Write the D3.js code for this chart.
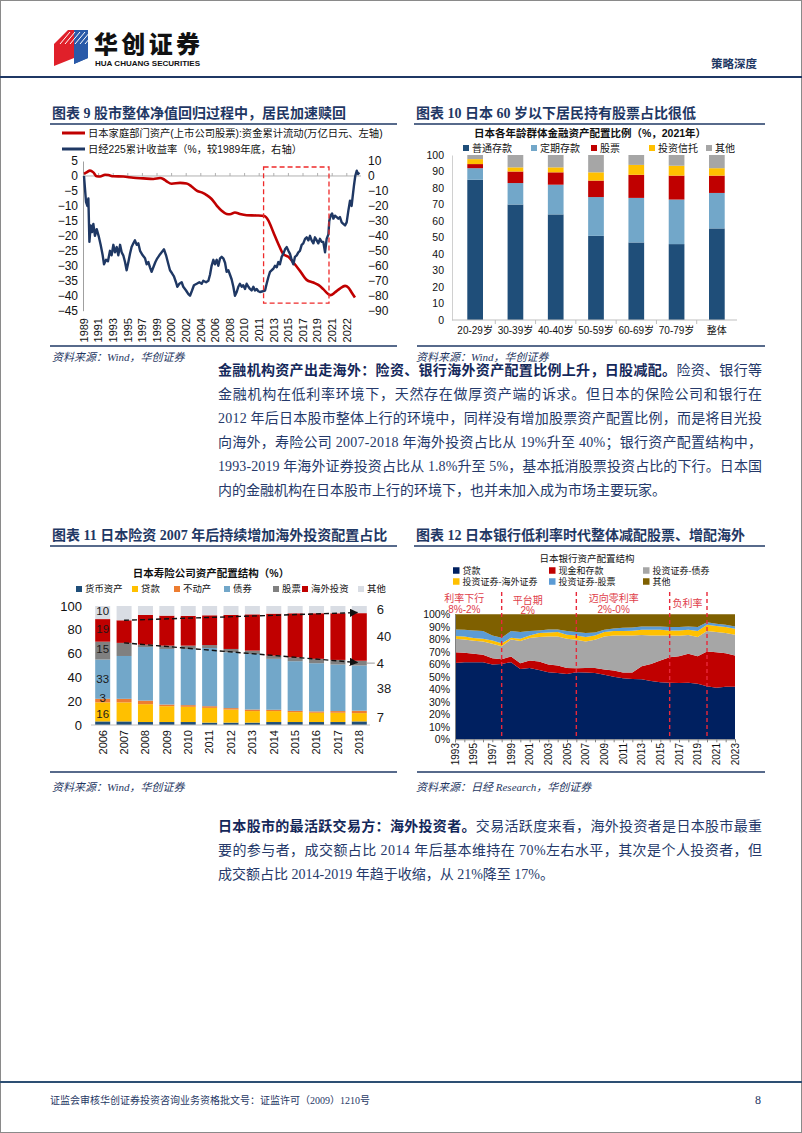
<!DOCTYPE html>
<html><head><meta charset="utf-8">
<script src="https://cdn.jsdelivr.net/npm/d3@7"></script>
<style>
body{margin:0;background:#fff;}
svg{display:block;}
</style></head><body>
<svg id="page" width="802" height="1133"></svg>
<script>
// ---------------- DATA ----------------
// Chart 9
const c9Ticks = ["1989","1991","1993","1995","1997","1999","2000","2002","2004","2006","2008","2010","2011","2013","2015","2017","2019","2021","2022"];
const c9Household = [[0,0.7],[0.18,1.2],[0.41,1.8],[0.64,1.2],[0.87,-0.1],[1.10,-0.2],[1.44,0.4],[1.67,0.3],[2.01,-0.1],[2.69,-0.2],[3.38,-0.6],[4.06,-0.8],[4.75,-1.0],[5.21,-0.7],[5.43,-1.0],[5.66,-1.8],[6.00,-2.6],[6.58,-2.3],[7.03,-2.5],[7.37,-3.5],[7.72,-4.9],[8.06,-5.5],[8.40,-6.4],[8.74,-7.7],[9.09,-9.9],[9.43,-11.6],[9.77,-12.7],[10.00,-12.8],[10.34,-12.2],[10.68,-12.7],[11.14,-13.1],[11.83,-13.2],[12.35,-13.4],[12.63,-14.9],[12.97,-18.8],[13.31,-22.7],[13.65,-26.1],[14.00,-27.0],[14.34,-28.9],[14.79,-31.7],[15.25,-34.7],[15.71,-35.6],[16.05,-36.4],[16.39,-37.8],[16.74,-39.5],[16.89,-39.8],[17.19,-38.9],[17.53,-37.6],[17.88,-36.7],[18.11,-37.3],[18.33,-38.9],[18.56,-40.6]];
const c9Nikkei = [[0,0],[0.14,-17.5],[0.23,-20],[0.30,-15],[0.37,-44],[0.46,-33],[0.55,-37.5],[0.64,-32],[0.75,-40],[0.87,-35.5],[1.00,-40],[1.14,-46],[1.28,-53],[1.37,-59],[1.51,-56],[1.64,-57],[1.78,-50],[1.89,-53],[2.01,-46],[2.12,-51],[2.24,-47.5],[2.35,-53],[2.47,-46],[2.58,-51],[2.69,-53],[2.81,-57.5],[2.92,-63],[3.04,-57.5],[3.15,-52],[3.26,-47.5],[3.38,-45],[3.49,-43],[3.61,-46],[3.72,-45],[3.84,-50],[4.02,-53],[4.18,-55],[4.29,-59],[4.41,-57.5],[4.52,-61],[4.63,-64],[4.75,-61],[4.89,-57.5],[5.02,-55],[5.16,-53],[5.32,-51],[5.48,-49],[5.62,-53],[5.78,-59],[5.89,-63],[6.03,-65],[6.16,-67],[6.30,-71],[6.39,-74],[6.53,-72],[6.69,-71],[6.80,-74],[6.99,-76.5],[7.15,-79],[7.26,-80],[7.40,-76.5],[7.53,-73],[7.72,-72],[7.90,-71],[8.06,-72],[8.17,-70],[8.36,-71],[8.52,-70],[8.63,-66],[8.74,-60],[8.86,-56],[8.97,-59],[9.09,-56],[9.20,-60],[9.32,-55],[9.43,-54],[9.54,-55],[9.66,-58],[9.77,-64],[9.89,-63],[10.00,-66],[10.11,-69],[10.23,-74],[10.34,-80],[10.46,-77.5],[10.57,-74],[10.68,-72],[10.80,-74],[10.91,-73],[11.03,-75.5],[11.14,-72],[11.26,-74],[11.37,-75.5],[11.48,-76.5],[11.60,-74],[11.71,-76.5],[11.83,-75.5],[11.94,-77],[12.05,-77.5],[12.24,-77],[12.40,-76.5],[12.51,-72],[12.63,-67.5],[12.74,-64],[12.85,-63],[12.97,-62],[13.08,-60],[13.20,-61],[13.31,-57.5],[13.42,-59],[13.54,-54],[13.65,-52],[13.77,-49],[13.88,-47.5],[14.00,-50],[14.11,-52],[14.22,-56],[14.34,-59],[14.45,-54],[14.57,-53],[14.68,-51],[14.79,-50],[14.91,-46],[15.02,-45],[15.14,-42],[15.25,-41],[15.37,-43],[15.48,-40],[15.59,-43],[15.71,-45],[15.82,-41],[15.94,-43],[16.05,-45],[16.16,-42],[16.28,-44],[16.39,-44],[16.51,-51],[16.62,-42],[16.74,-39],[16.80,-30],[16.89,-26.5],[16.99,-25],[17.08,-28.5],[17.19,-26.5],[17.31,-27.5],[17.42,-28.5],[17.53,-27.5],[17.65,-31],[17.76,-32],[17.88,-33],[17.99,-31],[18.11,-23],[18.22,-16.5],[18.33,-20],[18.40,-14],[18.49,-6.5],[18.58,0],[18.68,3.5],[18.77,1.3],[18.86,2.4]];
const c9Box = {from:12.3, to:16.78, top:3, bottom:-42.5};
const c9Legend = ["日本家庭部门资产(上市公司股票):资金累计流动(万亿日元、左轴)","日经225累计收益率（%，较1989年底，右轴）"];

// Chart 10
const c10Groups = ["20-29岁","30-39岁","40-40岁","50-59岁","60-69岁","70-79岁","整体"];
const c10Keys = ["普通存款","定期存款","股票","投资信托","其他"];
const c10Ordinary = [85,70,64,51,47,46,55.5];
const c10Time = [7,13,18,23.5,27,27,21.5];
const c10Stock = [2.5,7,7.5,10,14,14.5,10.5];
const c10Trust = [3,2.5,3,5,6,6,4.5];
const c10Other = [2.5,7.5,7.5,10.5,6,6.5,8];
const c10Ticks = [0,10,20,30,40,50,60,70,80,90,100];

// Chart 11
const c11Years = ["2006","2007","2008","2009","2010","2011","2012","2013","2014","2015","2016","2017","2018"];
const c11Keys = ["货币资产","贷款","不动产","债券","股票","海外投资","其他"];
const c11Cash = [3,3,2.5,2.5,2.5,2,2,2,2.5,2.5,2.5,2.5,3];
const c11Loan = [16,16,15,13.3,12.8,12.4,11,9.7,9.2,8.3,7.8,7.8,7];
const c11RealEstate = [3,3,3,1.4,1.4,1.4,1.2,1.3,1.1,1.1,1.1,1.4,2];
const c11Bond = [33,36,45,46.7,47.2,48.9,46.9,46.7,42.8,41.7,40.5,39.1,38];
const c11Stock = [15,11,2,2.8,2.8,2.5,2.8,2.8,2.7,3.3,3.7,3.9,4];
const c11Overseas = [19,19,25,25.2,25,25,28.6,30.5,35.3,37,38.3,39.2,40];
const c11Other = [11,12,7.5,8.1,8.3,7.8,7.5,7,6.4,6.1,6.1,6.1,6];
const c11FirstLabels = ["","16","3","33","15","19","10"];
const c11FirstLabelAt = [null,9.5,22.5,38.5,63.5,80.5,96];
const c11LastLabels = ["","7","","38","4","40","6"];
const c11Trends = [{from:["2007",88],to:["2018",94.5]},{from:["2007",69],to:["2018",52.5]}];
const c11Ticks = [0,20,40,60,80,100];

// Chart 12
const c12Years = d3.range(1993, 2024);
const c12Keys = ["贷款","现金和存款","投资证券-债券","投资证券-海外证券","投资证券-股票","其他"];
const c12Loan = [61.1,61.7,61.7,61.7,59.8,60.3,61.7,56.3,57.1,55.5,53.6,53.1,52.3,53.6,53.4,53.1,51.7,50.1,48.8,48.3,48.0,46.6,45.6,45.3,45.0,45.3,44.5,42.4,41.3,42.1,42.1];
const c12Cash = [8.6,7.5,6.7,5.9,5.1,3.8,4.5,4.6,5.9,6.7,6.2,5.9,4.8,3.2,3.7,4.0,4.1,4.9,4.6,5.1,10.4,13.7,17.4,20.4,21.5,23.1,22.0,27.8,28.4,26.8,24.9];
const c12Bond = [10.7,10.6,10.4,10.7,11.5,10.4,13.7,17.7,18.0,19.6,22.5,23.3,23.3,22.8,21.2,22.5,26.5,28.1,29.7,29.7,25.0,22.8,20.1,17.4,16.3,15.0,15.3,16.4,16.1,16.1,16.6];
const c12Foreign = [2.2,2.5,2.2,2.1,2.7,2.4,1.3,1.8,2.1,3.2,3.2,3.5,3.2,3.5,3.5,3.5,3.5,3.5,3.5,3.8,4.3,4.6,4.6,4.0,4.3,4.3,4.8,5.1,4.8,4.8,4.9];
const c12Stock = [5.3,5.4,6.1,6.2,4.0,4.3,5.4,5.4,3.5,2.1,2.4,2.1,3.0,2.7,3.2,2.4,1.9,2.1,2.7,2.6,2.6,2.6,2.6,2.7,2.7,2.6,3.2,1.9,1.9,1.9,1.8];
const c12Other = [12.1,12.3,12.9,13.4,16.9,18.8,13.4,14.2,13.4,12.9,12.1,12.1,13.4,14.2,15.0,14.5,12.3,11.3,10.7,10.5,9.7,9.7,9.7,10.2,10.2,9.7,10.2,6.4,7.5,8.3,9.7];
const c12TickYears = d3.range(1993, 2024, 2);
const c12Breaks = [1998, 2006, 2016, 2020];
const c12Phases = [
  {name:"利率下行", rate:"8%-2%", at:1994.0, anchor:"middle", row:0},
  {name:"平台期", rate:"2%", at:2000.8, anchor:"middle", row:0.2},
  {name:"迈向零利率", rate:"2%-0%", at:2010.0, anchor:"middle", row:0},
  {name:"负利率", rate:"", at:2016.3, anchor:"start", row:0.55}
];

// Text
const para1 = [
  [["金融机构资产出走海外：险资、银行海外资产配置比例上升，日股减配。",true],["险资、银行等",false]],
  [["金融机构在低利率环境下，天然存在做厚资产端的诉求。但日本的保险公司和银行在",false]],
  [["2012 年后日本股市整体上行的环境中，同样没有增加股票资产配置比例，而是将目光投",false]],
  [["向海外，寿险公司 2007-2018 年海外投资占比从 19%升至 40%；银行资产配置结构中，",false]],
  [["1993-2019 年海外证券投资占比从 1.8%升至 5%，基本抵消股票投资占比的下行。日本国",false]],
  [["内的金融机构在日本股市上行的环境下，也并未加入成为市场主要玩家。",false]]
];
const para2 = [
  [["日本股市的最活跃交易方：海外投资者。",true],["交易活跃度来看，海外投资者是日本股市最重",false]],
  [["要的参与者，成交额占比 2014 年后基本维持在 70%左右水平，其次是个人投资者，但",false]],
  [["成交额占比 2014-2019 年趋于收缩，从 21%降至 17%。",false]]
];

// ---------------- STYLE ----------------
const NAVY = "#1f3864";
const SANS = '"Liberation Sans", Arial, "Noto Sans CJK SC", sans-serif';
const SERIF = '"Liberation Serif", "Times New Roman", "Noto Sans CJK SC", serif';
const CJK = '"Noto Sans CJK SC", sans-serif';

const svg = d3.select("#page");
svg.append("rect").attr("x",0.5).attr("y",0.5).attr("width",801).attr("height",1132)
  .attr("fill","#fff").attr("stroke","#8a8a8a");

// ---------------- HEADER ----------------
const hd = svg.append("g");
hd.append("polygon").attr("points","54,44 68,30 74,30 74,58 54,66").attr("fill","#e0202a");
hd.append("polygon").attr("points","74,30 88,30 88,58 74,64 74,58").attr("fill","#2a5aa8");
for (let i=0;i<6;i++){
  hd.append("line").attr("x1",60+i*5).attr("y1",44).attr("x2",70+i*5).attr("y2",32)
    .attr("stroke","#fff").attr("stroke-width",1);
}
hd.append("polygon").attr("points","74,44 88,44 88,58 74,64").attr("fill","#2a5aa8");
hd.append("text").attr("x",94).attr("y",53).attr("font-family",CJK).attr("font-weight",900)
  .attr("font-size",24).attr("textLength",106).attr("fill","#111").text("华创证券");
hd.append("text").attr("x",95).attr("y",65.5).attr("font-family",SANS).attr("font-weight","bold")
  .attr("font-size",7).attr("textLength",105).attr("lengthAdjust","spacingAndGlyphs").attr("fill","#111").text("HUA CHUANG SECURITIES");
hd.append("text").attr("x",711).attr("y",68).attr("font-family",CJK).attr("font-weight","bold")
  .attr("font-size",11.5).attr("fill",NAVY).text("策略深度");
hd.append("line").attr("x1",0).attr("x2",802).attr("y1",77).attr("y2",77).attr("stroke",NAVY).attr("stroke-width",2.2);

// ---------------- HELPERS ----------------
function title(x, y, x2, label){
  svg.append("text").attr("x",x).attr("y",y).attr("font-family",SERIF).attr("font-weight","bold")
    .attr("font-size",14).attr("fill",NAVY).text(label);
  svg.append("line").attr("x1",x-2).attr("x2",x2).attr("y1",y+6).attr("y2",y+6)
    .attr("stroke",NAVY).attr("stroke-width",1.6);
}
function rule(x1,x2,y){
  svg.append("line").attr("x1",x1).attr("x2",x2).attr("y1",y).attr("y2",y).attr("stroke",NAVY).attr("stroke-width",1.6);
}
function source(x,y,label){
  svg.append("text").attr("x",x).attr("y",y).attr("font-family",SERIF).attr("font-style","italic")
    .attr("font-size",11).attr("fill",NAVY).text(label);
}
function legendSq(g,x,y,size,color,label,fs){
  g.append("rect").attr("x",x).attr("y",y-size/2).attr("width",size).attr("height",size).attr("fill",color);
  g.append("text").attr("x",x+size+3).attr("y",y).attr("dy","0.35em").attr("font-family",CJK)
    .attr("font-size",fs).attr("fill","#111").text(label);
}
function styleAxis(a, fs){
  a.selectAll("text").attr("font-family",SANS).attr("font-size",fs).attr("fill","#111");
}

// ---------------- CHART 9 ----------------
title(52,118,397,"图表 9  股市整体净值回归过程中，居民加速赎回");
const g9 = svg.append("g");
const x9 = d3.scaleLinear().domain([0, c9Ticks.length-1]).range([84, 346.8]);
const yL9 = d3.scaleLinear().domain([-45,5]).range([310.7,161]);
const yR9 = d3.scaleLinear().domain([-90,10]).range([310.7,161]);
g9.append("g").attr("transform","translate(83,0)")
  .call(d3.axisLeft(yL9).tickValues(d3.range(-45,6,5)).tickSize(0).tickPadding(5))
  .call(a=>{a.select(".domain").attr("stroke","#a0a0a0"); styleAxis(a,12);});
g9.append("g").attr("transform","translate(362,0)")
  .call(d3.axisRight(yR9).tickValues(d3.range(-90,11,10)).tickSize(0).tickPadding(6))
  .call(a=>{a.select(".domain").remove(); styleAxis(a,12);});
g9.append("line").attr("x1",83).attr("x2",361).attr("y1",yL9(0)).attr("y2",yL9(0)).attr("stroke","#b0b0b0");
g9.selectAll("line.t9").data(c9Ticks).join("line").attr("class","t9")
  .attr("x1",(d,i)=>x9(i)).attr("x2",(d,i)=>x9(i)).attr("y1",yL9(0)).attr("y2",yL9(0)-3).attr("stroke","#b0b0b0");
g9.selectAll("text.xl9").data(c9Ticks).join("text").attr("class","xl9")
  .attr("transform",(d,i)=>`translate(${x9(i)},318) rotate(-90)`)
  .attr("text-anchor","end").attr("dy","0.35em").attr("font-family",SANS).attr("font-size",11).attr("fill","#111")
  .text(d=>d);
g9.append("path").datum(c9Household).attr("fill","none").attr("stroke","#c00000").attr("stroke-width",2.6)
  .attr("d", d3.line().x(d=>x9(d[0])).y(d=>yL9(d[1])).curve(d3.curveMonotoneX));
g9.append("path").datum(c9Nikkei).attr("fill","none").attr("stroke",NAVY).attr("stroke-width",2.4)
  .attr("stroke-linejoin","round").attr("d", d3.line().x(d=>x9(d[0])).y(d=>yR9(d[1])));
g9.append("rect").attr("x",x9(c9Box.from)).attr("y",yL9(c9Box.top))
  .attr("width",x9(c9Box.to)-x9(c9Box.from)).attr("height",yL9(c9Box.bottom)-yL9(c9Box.top))
  .attr("fill","none").attr("stroke","#ee2a2a").attr("stroke-width",1.3).attr("stroke-dasharray","5,3");
[["#c00000",0],[NAVY,1]].forEach(([c,i])=>{
  const y = 133 + i*16;
  g9.append("line").attr("x1",62).attr("x2",85).attr("y1",y).attr("y2",y).attr("stroke",c).attr("stroke-width",3);
  g9.append("text").attr("x",88).attr("y",y).attr("dy","0.35em").attr("font-family",SANS)
    .attr("font-size",10.3).attr("fill","#111").text(c9Legend[i]);
});
rule(50,397,346);
source(52,361,"资料来源：Wind，华创证券");

// ---------------- CHART 10 ----------------
title(416,118,765,"图表 10  日本 60 岁以下居民持有股票占比很低");
const g10 = svg.append("g");
g10.append("text").attr("x",590).attr("y",133).attr("text-anchor","middle").attr("dy","0.35em")
  .attr("font-family",SANS).attr("font-weight","bold").attr("font-size",10.5).attr("fill","#111")
  .text("日本各年龄群体金融资产配置比例（%，2021年）");
const c10Colors = ["#1f4e79","#72a7c9","#c00000","#ffc000","#a6a6a6"];
const c10Legend = [463,531,591,649,706];
c10Keys.forEach((k,i)=>legendSq(g10,c10Legend[i],148,6,c10Colors[i],k,10));
const x10 = d3.scaleBand().domain(c10Groups).range([455,737]);
const y10 = d3.scaleLinear().domain([0,100]).range([320,155]);
const c10Rows = c10Groups.map((g,i)=>({g, "普通存款":c10Ordinary[i], "定期存款":c10Time[i], "股票":c10Stock[i], "投资信托":c10Trust[i], "其他":c10Other[i]}));
const st10 = d3.stack().keys(c10Keys)(c10Rows);
const bw10 = 15.7;
g10.selectAll("g.s").data(st10).join("g").attr("fill",(d,i)=>c10Colors[i])
  .selectAll("rect").data(d=>d).join("rect")
  .attr("x",d=>x10(d.data.g)+x10.bandwidth()/2-bw10/2).attr("width",bw10)
  .attr("y",d=>y10(d[1])).attr("height",d=>y10(d[0])-y10(d[1]));
g10.append("g").attr("transform","translate(452,0)")
  .call(d3.axisLeft(y10).tickValues(c10Ticks).tickSize(0).tickPadding(8))
  .call(a=>{a.select(".domain").attr("stroke","#d0d0d0"); styleAxis(a,10.5);});
g10.append("line").attr("x1",452).attr("x2",737).attr("y1",320).attr("y2",320).attr("stroke","#bfbfbf");
g10.selectAll("line.tk").data(c10Groups.slice(1)).join("line").attr("class","tk")
  .attr("x1",d=>x10(d)).attr("x2",d=>x10(d)).attr("y1",320).attr("y2",324).attr("stroke","#bfbfbf");
g10.selectAll("text.cat").data(c10Groups).join("text").attr("class","cat")
  .attr("x",d=>x10(d)+x10.bandwidth()/2).attr("y",330).attr("dy","0.35em").attr("text-anchor","middle")
  .attr("font-family",SANS).attr("font-size",10).attr("fill","#111").text(d=>d);
rule(417,765,346);
source(416,361,"资料来源：Wind，华创证券");

// ---------------- PARAGRAPHS ----------------
function paragraph(lines, y0, step){
  lines.forEach((segs,i)=>{
    const t = svg.append("text").attr("x",218).attr("y",y0+i*step).attr("font-family",SERIF)
      .attr("font-size",14).attr("fill","#25396a");
    if (i < lines.length-1) t.attr("textLength",544).attr("lengthAdjust","spacing");
    segs.forEach(([s,b])=>{
      t.append("tspan").attr("font-weight",b?"bold":"normal").attr("fill",b?"#14285a":"#25396a").text(s);
    });
  });
}
paragraph(para1, 375, 24);

// ---------------- CHART 11 ----------------
title(52,540,397,"图表 11  日本险资 2007 年后持续增加海外投资配置占比");
const g11 = svg.append("g");
g11.append("text").attr("x",211).attr("y",573).attr("text-anchor","middle").attr("dy","0.35em")
  .attr("font-family",SANS).attr("font-weight","bold").attr("font-size",10.5).attr("fill","#111")
  .text("日本寿险公司资产配置结构（%）");
const c11Colors = ["#1f4e79","#ffc000","#ed7d31","#72a7c9","#808080","#c00000","#d9dde4"];
const c11Legend = [76,132,174,224,273,302,358];
c11Keys.forEach((k,i)=>legendSq(g11,c11Legend[i],589,6,c11Colors[i],k,9.4));
const x11 = d3.scaleBand().domain(c11Years).range([92,370]);
const y11 = d3.scaleLinear().domain([0,100]).range([725,606]);
const c11Rows = c11Years.map((y,i)=>({y, "货币资产":c11Cash[i],"贷款":c11Loan[i],"不动产":c11RealEstate[i],"债券":c11Bond[i],"股票":c11Stock[i],"海外投资":c11Overseas[i],"其他":c11Other[i]}));
const st11 = d3.stack().keys(c11Keys)(c11Rows);
const bw11 = 15;
const cx11 = y => x11(y)+x11.bandwidth()/2;
g11.selectAll("g.s").data(st11).join("g").attr("fill",(d,i)=>c11Colors[i])
  .selectAll("rect").data(d=>d).join("rect")
  .attr("x",d=>cx11(d.data.y)-bw11/2).attr("width",bw11)
  .attr("y",d=>y11(d[1])).attr("height",d=>y11(d[0])-y11(d[1]));
g11.append("g").attr("transform","translate(90,0)")
  .call(d3.axisLeft(y11).tickValues(c11Ticks).tickSize(0).tickPadding(8))
  .call(a=>{a.select(".domain").remove(); styleAxis(a,13);});
g11.append("line").attr("x1",91).attr("x2",370).attr("y1",725).attr("y2",725).attr("stroke","#bfbfbf");
g11.selectAll("text.yr").data(c11Years).join("text").attr("class","yr")
  .attr("transform",d=>`translate(${cx11(d)},730) rotate(-90)`).attr("text-anchor","end").attr("dy","0.35em")
  .attr("font-family",SANS).attr("font-size",11).attr("fill","#111").text(d=>d);
st11.forEach((s,i)=>{
  const d0 = s[0];
  if (c11FirstLabels[i]) g11.append("text").attr("x",cx11(d0.data.y)).attr("y",y11(c11FirstLabelAt[i]))
    .attr("dy","0.35em").attr("text-anchor","middle").attr("font-family",SANS).attr("font-size",11.5)
    .attr("fill","#1a1a1a").text(c11FirstLabels[i]);
  const dl = s[s.length-1];
  if (c11LastLabels[i]) g11.append("text").attr("x",cx11(dl.data.y)+bw11/2+10).attr("y",y11((dl[0]+dl[1])/2))
    .attr("dy","0.35em").attr("font-family",SANS).attr("font-size",13).attr("fill","#1a1a1a").text(c11LastLabels[i]);
});
g11.append("line").attr("x1",cx11("2018")+bw11/2).attr("x2",cx11("2018")+bw11/2+8)
  .attr("y1",y11(52)).attr("y2",y11(52)).attr("stroke","#999");
const defs = svg.append("defs");
defs.append("marker").attr("id","arr").attr("viewBox","0 0 10 10").attr("refX",9).attr("refY",5)
  .attr("markerWidth",6).attr("markerHeight",6).attr("orient","auto")
  .append("path").attr("d","M0,0 L10,5 L0,10 z").attr("fill","#111");
c11Trends.forEach(t=>{
  g11.append("line").attr("x1",cx11(t.from[0])).attr("y1",y11(t.from[1]))
    .attr("x2",cx11(t.to[0])-2).attr("y2",y11(t.to[1]))
    .attr("stroke","#111").attr("stroke-width",1.4).attr("stroke-dasharray","5,3").attr("marker-end","url(#arr)");
});
rule(50,397,772);
source(52,791,"资料来源：Wind，华创证券");

// ---------------- CHART 12 ----------------
title(416,540,765,"图表 12  日本银行低利率时代整体减配股票、增配海外");
const g12 = svg.append("g");
g12.append("text").attr("x",587).attr("y",559).attr("text-anchor","middle").attr("dy","0.35em")
  .attr("font-family",CJK).attr("font-size",9.5).attr("fill","#111").text("日本银行资产配置结构");
const c12Colors = ["#002060","#c00000","#a6a6a6","#ffc000","#5b9bd5","#7f6000"];
const c12LegendPos = [[453,570.5],[549,570.5],[643,570.5],[453,581.5],[549,581.5],[643,581.5]];
c12Keys.forEach((k,i)=>legendSq(g12,c12LegendPos[i][0],c12LegendPos[i][1],6.5,c12Colors[i],k,9));
const x12 = d3.scaleLinear().domain([1993,2023]).range([455,735]);
const y12 = d3.scaleLinear().domain([0,1]).range([739.3,614.3]);
const c12Rows = c12Years.map((y,i)=>({y, "贷款":c12Loan[i],"现金和存款":c12Cash[i],"投资证券-债券":c12Bond[i],"投资证券-海外证券":c12Foreign[i],"投资证券-股票":c12Stock[i],"其他":c12Other[i]}));
const st12 = d3.stack().keys(c12Keys).offset(d3.stackOffsetExpand)(c12Rows);
const area12 = d3.area().x(d=>x12(d.data.y)).y0(d=>y12(d[0])).y1(d=>y12(d[1]));
g12.selectAll("path.ar").data(st12).join("path").attr("class","ar")
  .attr("fill",(d,i)=>c12Colors[i]).attr("d",area12);
g12.append("g").attr("transform","translate(455,0)")
  .call(d3.axisLeft(y12).ticks(10).tickFormat(d3.format(".0%")).tickSize(0).tickPadding(5))
  .call(a=>{a.select(".domain").attr("stroke","#808080"); styleAxis(a,10.5);});
g12.append("g").attr("transform","translate(0,739.3)")
  .call(d3.axisBottom(x12).tickValues(c12Years).tickSize(3).tickFormat(""))
  .call(a=>{a.select(".domain").attr("stroke","#808080"); a.selectAll("line").attr("stroke","#808080");});
g12.selectAll("text.yr").data(c12TickYears).join("text").attr("class","yr")
  .attr("transform",d=>`translate(${x12(d)},743) rotate(-90)`).attr("text-anchor","end").attr("dy","0.35em")
  .attr("font-family",SANS).attr("font-size",10).attr("fill","#111").text(d=>d);
g12.selectAll("line.brk").data(c12Breaks).join("line").attr("class","brk")
  .attr("x1",d=>x12(d)).attr("x2",d=>x12(d)).attr("y1",592).attr("y2",739.3)
  .attr("stroke","#e8283a").attr("stroke-width",1.4).attr("stroke-dasharray","4,3");
c12Phases.forEach(p=>{
  g12.append("text").attr("x",x12(p.at)).attr("y",598+p.row*10).attr("dy","0.35em").attr("text-anchor",p.anchor)
    .attr("font-family",CJK).attr("font-size",10).attr("fill","#e0404a").text(p.name);
  if (p.rate) g12.append("text").attr("x",x12(p.at)).attr("y",609.5+p.row*3).attr("dy","0.35em").attr("text-anchor",p.anchor)
    .attr("font-family",SANS).attr("font-size",10).attr("fill","#e0404a").text(p.rate);
});
rule(417,765,772);
source(416,791,"资料来源：日经 Research，华创证券");

// ---------------- PARAGRAPH 2 ----------------
paragraph(para2, 831, 24);

// ---------------- FOOTER ----------------
svg.append("line").attr("x1",0).attr("x2",802).attr("y1",1082).attr("y2",1082).attr("stroke","#2d4f73").attr("stroke-width",2);
svg.append("text").attr("x",50).attr("y",1104).attr("font-family",SERIF).attr("font-size",10).attr("fill",NAVY)
  .text("证监会审核华创证券投资咨询业务资格批文号：证监许可（2009）1210号");
svg.append("text").attr("x",755).attr("y",1104).attr("font-family",SERIF).attr("font-size",12).attr("fill",NAVY).text("8");
</script></body></html>
